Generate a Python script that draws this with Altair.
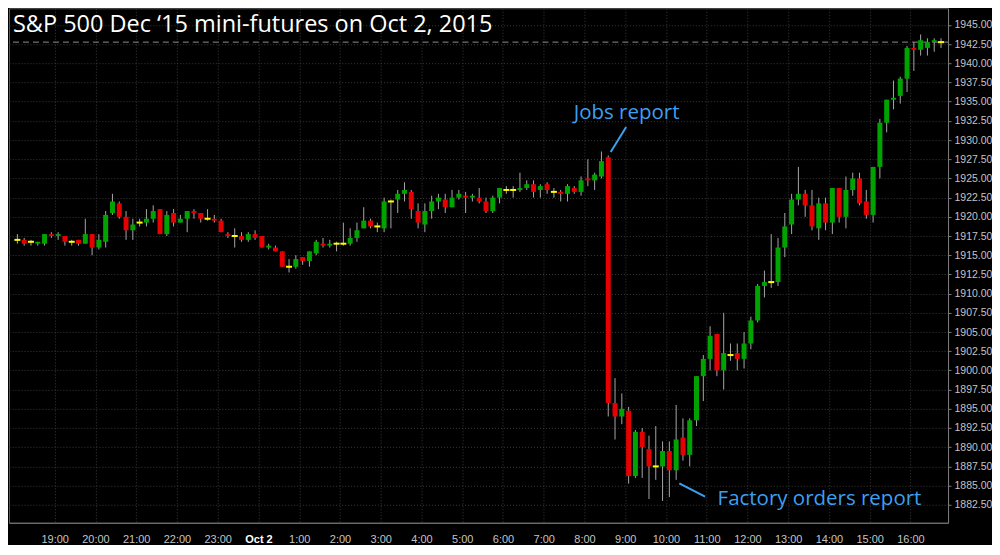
import altair as alt
import pandas as pd

# ---- data: 10-minute bars of ES Dec '15, session starting 18:00 (Oct 1) ----
bar_minutes = 10          # bar length
first_bar_offset = 0      # minutes after 18:00 of the first bar

opens = [1917.0, 1917.0, 1916.75, 1916.5, 1916.5, 1917.75, 1917.5, 1917.5, 1916.75, 1917.0,
         1916.5, 1917.75, 1916.0, 1916.75, 1920.5, 1921.75, 1920.0, 1918.25, 1919.25, 1919.25,
         1919.75, 1921.0, 1917.75, 1920.5, 1919.25, 1919.75, 1920.75, 1920.5, 1919.75, 1919.75,
         1919.5, 1917.75, 1917.5, 1917.5, 1917.0, 1917.75, 1917.5, 1916.0, 1916.0, 1915.5,
         1913.5, 1913.5, 1914.75, 1914.25, 1915.25, 1916.5, 1916.25, 1916.5, 1916.5, 1916.5,
         1917.25, 1918.5, 1919.5, 1918.75, 1918.5, 1922.0, 1922.25, 1923.0, 1923.25, 1920.75,
         1919.0, 1920.75, 1922.0, 1922.25, 1921.25, 1922.5, 1922.75, 1922.5, 1922.5, 1922.0,
         1920.75, 1922.5, 1923.5, 1923.5, 1923.5, 1923.75, 1924.25, 1923.5, 1924.25, 1923.25,
         1923.25, 1923.0, 1923.75, 1923.25, 1925.0, 1924.75, 1925.25, 1927.75, 1895.75, 1894.0,
         1894.75, 1886.25, 1892.0, 1889.75, 1887.5, 1887.5, 1889.5, 1887.0, 1891.25, 1889.0,
         1893.5, 1899.25, 1901.5, 1904.75, 1900.0, 1902.0, 1902.25, 1901.5, 1903.5, 1906.5,
         1911.0, 1911.5, 1911.5, 1916.0, 1919.0, 1922.25, 1923.0, 1921.5, 1918.5, 1921.75,
         1919.25, 1923.75, 1920.0, 1923.5, 1925.0, 1922.0, 1920.25, 1926.5, 1932.25, 1935.25,
         1935.75, 1938.0, 1942.0, 1941.75, 1942.0, 1942.75, 1942.75]
highs = [1917.75, 1917.25, 1917.0, 1916.75, 1917.75, 1918.0, 1918.0, 1917.5, 1917.0, 1917.0,
         1919.75, 1917.75, 1917.75, 1920.75, 1923.0, 1922.0, 1920.75, 1919.75, 1919.75, 1921.0,
         1921.5, 1921.0, 1920.75, 1921.0, 1920.25, 1920.75, 1921.0, 1920.5, 1921.0, 1920.25,
         1919.75, 1918.0, 1918.5, 1918.0, 1918.0, 1918.25, 1917.5, 1916.5, 1916.25, 1915.5,
         1914.5, 1915.0, 1914.75, 1915.5, 1917.0, 1917.25, 1917.0, 1916.75, 1919.25, 1918.5,
         1919.25, 1921.25, 1919.75, 1919.25, 1922.5, 1922.25, 1923.5, 1924.5, 1923.5, 1921.75,
         1921.75, 1922.75, 1923.0, 1923.0, 1923.5, 1923.5, 1923.25, 1923.0, 1923.75, 1922.5,
         1922.75, 1923.75, 1924.0, 1924.0, 1925.75, 1924.75, 1924.75, 1924.25, 1924.5, 1923.75,
         1923.5, 1924.25, 1924.0, 1925.25, 1927.5, 1925.75, 1928.5, 1928.0, 1899.0, 1897.0,
         1895.25, 1892.25, 1892.5, 1891.5, 1892.75, 1890.75, 1890.75, 1895.5, 1893.75, 1893.75,
         1899.25, 1902.0, 1905.75, 1904.75, 1907.5, 1903.5, 1903.5, 1905.0, 1907.0, 1911.25,
         1913.0, 1917.75, 1917.25, 1920.5, 1923.0, 1926.5, 1923.5, 1923.5, 1922.5, 1922.5,
         1923.75, 1923.75, 1925.25, 1925.75, 1925.75, 1923.5, 1926.5, 1932.75, 1935.25, 1937.75,
         1938.25, 1942.25, 1942.75, 1943.75, 1943.25, 1943.25, 1943.25]
lows = [1916.5, 1916.25, 1916.25, 1916.25, 1916.25, 1917.25, 1917.0, 1916.25, 1916.25, 1916.25,
        1916.5, 1915.0, 1915.75, 1916.0, 1920.25, 1919.75, 1917.0, 1917.0, 1918.75, 1918.75,
        1919.25, 1917.75, 1917.5, 1918.75, 1919.25, 1918.0, 1919.75, 1919.25, 1919.5, 1919.25,
        1918.0, 1917.25, 1916.0, 1916.75, 1916.75, 1917.0, 1916.0, 1915.75, 1915.5, 1913.5,
        1912.75, 1913.25, 1913.75, 1913.5, 1915.0, 1916.0, 1916.0, 1915.5, 1916.25, 1916.25,
        1916.75, 1918.5, 1918.5, 1918.0, 1918.0, 1918.5, 1920.5, 1922.0, 1919.75, 1918.5,
        1918.0, 1919.75, 1921.0, 1920.5, 1921.25, 1922.25, 1920.5, 1922.0, 1921.75, 1920.5,
        1920.5, 1921.75, 1923.0, 1922.5, 1923.25, 1923.5, 1922.5, 1922.5, 1923.0, 1922.5,
        1922.0, 1922.0, 1923.0, 1922.75, 1924.0, 1923.5, 1925.0, 1894.0, 1891.0, 1893.0,
        1885.25, 1886.0, 1886.0, 1883.25, 1885.75, 1883.0, 1883.5, 1885.75, 1888.25, 1887.5,
        1892.75, 1896.0, 1900.0, 1899.25, 1897.5, 1901.25, 1900.0, 1900.25, 1902.75, 1906.25,
        1909.5, 1910.75, 1911.0, 1914.75, 1917.75, 1921.5, 1920.0, 1918.25, 1917.0, 1918.25,
        1917.75, 1919.25, 1918.5, 1922.75, 1921.5, 1919.75, 1919.25, 1925.0, 1931.0, 1934.0,
        1934.75, 1936.25, 1939.0, 1941.0, 1941.0, 1941.5, 1942.0]
closes = [1917.0, 1916.5, 1916.75, 1916.75, 1917.75, 1917.5, 1917.75, 1916.75, 1916.75, 1916.5,
          1917.75, 1916.0, 1917.0, 1920.25, 1922.0, 1920.0, 1918.25, 1919.0, 1919.25, 1919.75,
          1920.75, 1917.75, 1920.25, 1919.25, 1919.75, 1920.75, 1920.5, 1919.75, 1919.75, 1919.5,
          1918.0, 1917.5, 1917.5, 1917.0, 1917.75, 1917.25, 1916.0, 1916.25, 1915.5, 1913.5,
          1913.5, 1914.5, 1914.25, 1915.5, 1916.75, 1916.25, 1916.5, 1916.5, 1916.5, 1917.25,
          1918.25, 1919.5, 1918.75, 1918.75, 1922.0, 1922.0, 1923.0, 1923.5, 1921.0, 1919.25,
          1920.75, 1922.0, 1922.5, 1921.25, 1922.5, 1923.0, 1922.5, 1922.75, 1922.0, 1920.75,
          1922.5, 1923.75, 1923.5, 1923.5, 1923.75, 1924.25, 1923.25, 1924.0, 1923.5, 1923.25,
          1923.0, 1924.0, 1923.25, 1924.75, 1924.75, 1925.5, 1927.25, 1895.75, 1894.0, 1895.0,
          1886.25, 1892.0, 1890.0, 1887.5, 1887.5, 1889.5, 1887.0, 1891.0, 1889.0, 1893.5,
          1899.25, 1901.5, 1904.5, 1900.0, 1902.25, 1902.0, 1901.5, 1903.5, 1906.5, 1911.0,
          1911.5, 1911.5, 1916.0, 1918.75, 1922.25, 1923.0, 1921.5, 1918.75, 1921.75, 1919.25,
          1923.75, 1920.0, 1923.5, 1925.0, 1921.75, 1920.25, 1926.5, 1932.25, 1935.25, 1935.5,
          1938.0, 1942.0, 1941.75, 1943.0, 1942.75, 1943.0, 1942.75]

last_price = [1942.75]

hour_labels = ["19:00", "20:00", "21:00", "22:00", "23:00", "Oct 2", "1:00", "2:00", "3:00",
               "4:00", "5:00", "6:00", "7:00", "8:00", "9:00", "10:00", "11:00", "12:00",
               "13:00", "14:00", "15:00", "16:00"]
hour_ticks = [60, 120, 180, 240, 300, 360, 420, 480, 540, 600, 660, 720, 780, 840, 900, 960,
              1020, 1080, 1140, 1200, 1260, 1320]
price_ticks = [1882.5, 1885.0, 1887.5, 1890.0, 1892.5, 1895.0, 1897.5, 1900.0, 1902.5, 1905.0,
               1907.5, 1910.0, 1912.5, 1915.0, 1917.5, 1920.0, 1922.5, 1925.0, 1927.5, 1930.0,
               1932.5, 1935.0, 1937.5, 1940.0, 1942.5, 1945.0]

# annotations (minutes after 18:00, price)
note_text = ["Jobs report", "Factory orders report"]
note_x = [902, 1036]
note_y = [1933.5, 1883.2]
note_align = ["center", "left"]
arrow_x = [901.4, 979.6]
arrow_y = [1931.7, 1885.3]
arrow_x2 = [878.6, 1017.6]
arrow_y2 = [1928.45, 1883.55]

title_text = "S&P 500 Dec \u201815 mini-futures on Oct 2, 2015"

# ---- table ----
n = len(opens)
df = pd.DataFrame({
    "t": [first_bar_offset + bar_minutes * i + bar_minutes / 2 for i in range(n)],
    "open": opens, "high": highs, "low": lows, "close": closes,
})
df["dir"] = ["up" if c > o else ("down" if c < o else "flat") for o, c in zip(opens, closes)]

notes = pd.DataFrame({"text": note_text, "x": note_x, "y": note_y, "align": note_align})
arrows = pd.DataFrame({"x": arrow_x, "y": arrow_y, "x2": arrow_x2, "y2": arrow_y2})
price_df = pd.DataFrame({"p": last_price})

xscale = alt.Scale(domain=[0, 1368], nice=False, zero=False)
yscale = alt.Scale(domain=[1880.16, 1947.16], nice=False, zero=False)

label_arr = "[" + ",".join("'%s'" % s for s in hour_labels) + "]"

GRID = "#3a3a3a"
AXIS_GRAY = "#7a7a7a"
LABEL_GRAY = "#c4c4c4"
FONT_AX = "Liberation Sans"
BLUE = "#3d9ff0"

x_axis = alt.Axis(
    values=hour_ticks, grid=True, gridColor=GRID, gridDash=[1, 2], gridWidth=1,
    ticks=False, domainColor=AXIS_GRAY,
    labelColor={"condition": {"test": "datum.value == 360", "value": "#ffffff"}, "value": LABEL_GRAY},
    labelFontWeight={"condition": {"test": "datum.value == 360", "value": "bold"}, "value": "normal"},
    labelFont=FONT_AX, labelFontSize=11, labelPadding=11,
    labelExpr=label_arr + "[round(datum.value / 60) - 1]", title=None, labelFlush=False,
)
y_axis = alt.Axis(
    values=price_ticks, orient="right", format=".2f", grid=True, gridColor=GRID, gridDash=[1, 2],
    gridWidth=1, tickColor=AXIS_GRAY, tickSize=3, domainColor=AXIS_GRAY,
    labelColor=LABEL_GRAY, labelFont=FONT_AX, labelFontSize=10.5, labelPadding=3, title=None,
)

X = lambda f: alt.X(f, scale=xscale, axis=x_axis)
Y = lambda f: alt.Y(f, scale=yscale, axis=y_axis)

base = alt.Chart(df)

wicks = base.mark_rule(color="#a6a6a6", strokeWidth=1).encode(
    x=X("t:Q"), y=Y("low:Q"), y2="high:Q",
)

bodies = base.transform_filter("datum.open != datum.close").mark_bar(size=5).encode(
    x=X("t:Q"), y=Y("open:Q"), y2="close:Q",
    color=alt.Color("dir:N", scale=alt.Scale(domain=["up", "down"], range=["#00a400", "#e60000"]), legend=None),
)

dojis = base.transform_filter("datum.open == datum.close").mark_tick(
    color="#ffff00", orient="horizontal", size=6, thickness=2, opacity=1
).encode(x=X("t:Q"), y=Y("close:Q"))

price_line = alt.Chart(price_df).mark_rule(color="#8c8c8c", strokeDash=[6, 4], strokeWidth=1).encode(
    y=Y("p:Q"),
)

arrow_marks = alt.Chart(arrows).mark_rule(color=BLUE, strokeWidth=2).encode(
    x=X("x:Q"), y=Y("y:Q"), x2="x2:Q", y2="y2:Q",
)

note_center = alt.Chart(notes).transform_filter("datum.align == 'center'").mark_text(
    color=BLUE, font="Open Sans", fontSize=20.5, align="center", baseline="middle"
).encode(x=X("x:Q"), y=Y("y:Q"), text="text:N")

note_left = alt.Chart(notes).transform_filter("datum.align == 'left'").mark_text(
    color=BLUE, font="Open Sans", fontSize=20.5, align="left", baseline="middle"
).encode(x=X("x:Q"), y=Y("y:Q"), text="text:N")

title = alt.Chart(pd.DataFrame({"s": [title_text]})).mark_text(
    color="#ffffff", font="Open Sans", fontSize=23.5, align="left", baseline="middle"
).encode(x=alt.value(4), y=alt.value(17), text="s:N")

chart = alt.layer(
    wicks, price_line, bodies, dojis, arrow_marks, note_center, note_left, title
).properties(
    width=940, height=515, padding={"left": 0, "top": 0, "right": 0, "bottom": 0},
    background="#000000",
).configure_view(stroke="#5a5a5a", strokeWidth=1)

chart.save("out.html", embed_options={"renderer": "svg", "actions": False})
